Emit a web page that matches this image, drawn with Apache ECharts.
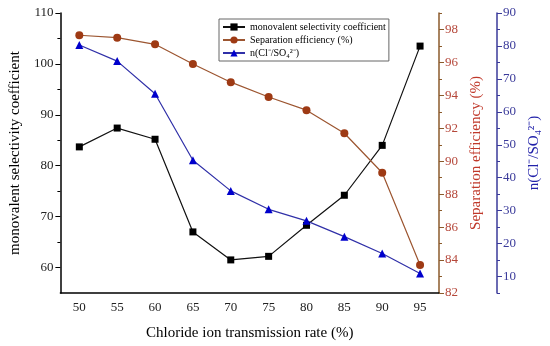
<!DOCTYPE html>
<html><head><meta charset="utf-8">
<script src="https://cdn.jsdelivr.net/npm/echarts@6/dist/echarts.min.js"></script>
<style>html,body{margin:0;padding:0;background:#fff}#c{width:550px;height:346px}</style>
</head><body><div id="c"></div>
<script>
const categories = ['50','55','60','65','70','75','80','85','90','95'];
const selectivity = [83.7, 87.4, 85.2, 67.0, 61.5, 62.2, 68.3, 74.2, 84.0, 103.5];
const separation = [97.65, 97.5, 97.1, 95.9, 94.8, 93.9, 93.1, 91.7, 89.3, 83.7];
const ratio = [80.3, 75.4, 65.5, 45.3, 36.0, 30.4, 26.9, 22.1, 17.0, 10.9];
const leftMajor = [60,70,80,90,100,110];
const leftMinor = [65,75,85,95,105];
const sepMajor = [82,84,86,88,90,92,94,96,98];
const sepMinor = [83,85,87,89,91,93,95,97,99];
const ratioMajor = [10,20,30,40,50,60,70,80,90];
const ratioMinor = [5,15,25,35,45,55,65,75,85];

const serif = 'Liberation Serif';
const sepAxisColor = '#8b5a2b', sepLabelColor = '#b5473a';
const ratioColor = '#3a3a9a';

function axis(opts){ return Object.assign({type:'value', splitLine:{show:false}}, opts); }

const option = {
  animation:false,
  grid:{left:57, right:111, top:13, bottom:53},
  legend:{
    left:219, top:19, orient:'vertical', itemGap:3, itemWidth:22, itemHeight:9,
    padding:[3,3,3,3], borderColor:'#666', borderWidth:1,
    textStyle:{fontFamily:serif, fontSize:10, color:'#000'},
    data:['monovalent selectivity coefficient','Separation efficiency (%)','n(Cl⁻/SO₄²⁻)']
  },
  xAxis:{
    type:'category', data:categories, boundaryGap:true,
    axisLine:{lineStyle:{color:'#000', width:1.5}},
    axisTick:{alignWithLabel:true, length:5, lineStyle:{color:'#000'}},
    axisLabel:{fontFamily:serif, fontSize:13, color:'#222', margin:8},
    name:'Chloride ion transmission rate (%)', nameLocation:'middle', nameGap:33,
    nameTextStyle:{fontFamily:serif, fontSize:15, color:'#000'}
  },
  yAxis:[
    axis({position:'left', min:55, max:110,
      axisLine:{show:true, lineStyle:{color:'#000', width:1.5}},
      axisTick:{show:true, length:5, customValues:leftMajor, lineStyle:{color:'#000'}},
      axisLabel:{customValues:leftMajor, fontFamily:serif, fontSize:13, color:'#222', margin:7},
      name:'monovalent selectivity coefficient', nameLocation:'middle', nameGap:35, nameRotate:90,
      nameTextStyle:{fontFamily:serif, fontSize:15, color:'#000'}}),
    axis({position:'left', min:55, max:110,
      axisLine:{show:false},
      axisTick:{show:true, length:3, customValues:leftMinor, lineStyle:{color:'#000'}},
      axisLabel:{show:false}}),
    axis({position:'right', min:82, max:99,
      axisLine:{show:true, lineStyle:{color:sepAxisColor, width:1.5}},
      axisTick:{show:true, length:5, customValues:sepMajor, lineStyle:{color:sepAxisColor}},
      axisLabel:{customValues:sepMajor, fontFamily:serif, fontSize:13, color:sepLabelColor, margin:6},
      name:'Separation efficiency (%)', nameLocation:'middle', nameGap:30, nameRotate:90,
      nameTextStyle:{fontFamily:serif, fontSize:15, color:'#c0392b'}}),
    axis({position:'right', min:82, max:99,
      axisLine:{show:false},
      axisTick:{show:true, length:3, customValues:sepMinor, lineStyle:{color:sepAxisColor}},
      axisLabel:{show:false}}),
    axis({position:'right', offset:58, min:5, max:90,
      axisLine:{show:true, lineStyle:{color:ratioColor, width:1.5}},
      axisTick:{show:true, length:5, customValues:ratioMajor, lineStyle:{color:ratioColor}},
      axisLabel:{customValues:ratioMajor, fontFamily:serif, fontSize:13, color:ratioColor, margin:6},
      name:'n(Cl⁻/SO₄²⁻)', nameLocation:'middle', nameGap:28, nameRotate:90,
      nameTextStyle:{fontFamily:serif, fontSize:15, color:'#2222aa'}}),
    axis({position:'right', offset:58, min:5, max:90,
      axisLine:{show:false},
      axisTick:{show:true, length:3, customValues:ratioMinor, lineStyle:{color:ratioColor}},
      axisLabel:{show:false}})
  ],
  series:[
    {name:'monovalent selectivity coefficient', type:'line', yAxisIndex:0, data:selectivity,
     symbol:'rect', symbolSize:7, lineStyle:{color:'#111', width:1.2}, itemStyle:{color:'#000'}},
    {name:'Separation efficiency (%)', type:'line', yAxisIndex:2, data:separation,
     symbol:'circle', symbolSize:8, lineStyle:{color:'#9c5530', width:1.2}, itemStyle:{color:'#9e3a14'}},
    {name:'n(Cl⁻/SO₄²⁻)', type:'line', yAxisIndex:4, data:ratio,
     symbol:'triangle', symbolSize:8, lineStyle:{color:'#3030a8', width:1.2}, itemStyle:{color:'#0000cc'}}
  ]
};
echarts.init(document.getElementById('c')).setOption(option);
</script></body></html>
